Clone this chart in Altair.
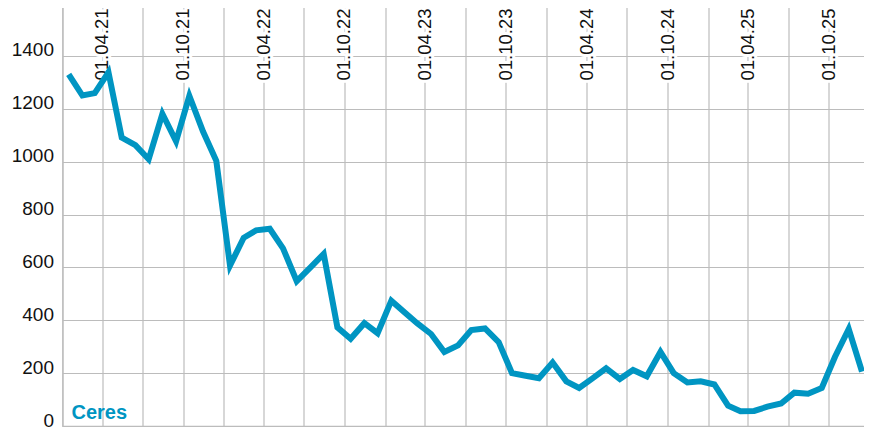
import altair as alt
import pandas as pd

# Monthly values (mid-month), Jan 2021 - Dec 2025
months = [f"{y}-{m:02d}-15" for y in range(2021, 2026) for m in range(1, 13)]
values = [1330, 1250, 1259, 1338, 1091, 1062, 1009, 1181, 1077, 1249, 1114, 1003,
          607, 712, 740, 746, 672, 548, 598, 651, 373, 330, 389, 351,
          474, 428, 388, 348, 280, 305, 363, 369, 317, 200, 190, 181,
          240, 169, 144, 181, 218, 178, 212, 188, 280, 200, 165, 169,
          157, 77, 56, 57, 73, 85, 126, 122, 144, 262, 367, 206]

label_dates = ["2021-04-01", "2021-10-01", "2022-04-01", "2022-10-01", "2023-04-01",
               "2023-10-01", "2024-04-01", "2024-10-01", "2025-04-01", "2025-10-01"]
label_texts = ["01.04.21", "01.10.21", "01.04.22", "01.10.22", "01.04.23",
               "01.10.23", "01.04.24", "01.10.24", "01.04.25", "01.10.25"]
y_ticks = [0, 200, 400, 600, 800, 1000, 1200, 1400]
series_name = "Ceres"

BLUE = "#0095c2"
GRID = "#bcbcbc"
FONT = "Liberation Sans"

df = pd.DataFrame({"date": months, "value": values})
labels_df = pd.DataFrame({"date": label_dates, "text": label_texts})
name_df = pd.DataFrame({"t": [series_name]})

grid_vals = [alt.DateTime(year=y, month=m, date=1, utc=True)
             for y in range(2021, 2026) for m in (1, 4, 7, 10)] + \
            [alt.DateTime(year=2026, month=1, date=1, utc=True)]

xscale = alt.Scale(type="utc",
                   domain=[alt.DateTime(year=2021, month=1, date=1, utc=True),
                           alt.DateTime(year=2026, month=1, date=1, utc=True)])
yscale = alt.Scale(domain=[0, 1600], nice=False)

line = alt.Chart(df).mark_line(color=BLUE, strokeWidth=6).encode(
    x=alt.X("date:T", scale=xscale,
            axis=alt.Axis(values=grid_vals, labels=False, ticks=False, domain=False,
                          grid=True, title=None)),
    y=alt.Y("value:Q", scale=yscale,
            axis=alt.Axis(values=y_ticks, format="d", ticks=False, tickSize=0, domain=False,
                          grid=True, title=None, labelBaseline="alphabetic", labelPadding=9,
                          labelFontSize=19, labelFont=FONT, labelColor="#111111")),
)

halo = alt.Chart(labels_df).mark_text(
    angle=270, align="right", baseline="middle", font=FONT, fontSize=18.5,
    stroke="white", strokeWidth=6, fill="white"
).encode(x=alt.X("date:T", scale=xscale), y=alt.value(5.5), text="text:N")

lbl = alt.Chart(labels_df).mark_text(
    angle=270, align="right", baseline="middle", font=FONT, fontSize=18.5, color="#111111"
).encode(x=alt.X("date:T", scale=xscale), y=alt.value(5.5), text="text:N")

name = alt.Chart(name_df).mark_text(
    align="left", baseline="alphabetic", font=FONT, fontSize=20, fontWeight="bold", color=BLUE
).encode(x=alt.value(9), y=alt.value(416), text="t:N")

chart = alt.layer(halo, lbl, line, name).properties(
    width=807, height=423,
    autosize=alt.AutoSizeParams(type="none"),
    padding={"left": 54.5, "top": -5, "right": -5.5, "bottom": 2},
).configure_view(stroke=GRID, strokeWidth=1.2).configure_axis(
    gridColor=GRID, gridWidth=1.2, gridOpacity=1
)

chart.save("out.html", embed_options={"renderer": "svg", "actions": False})
